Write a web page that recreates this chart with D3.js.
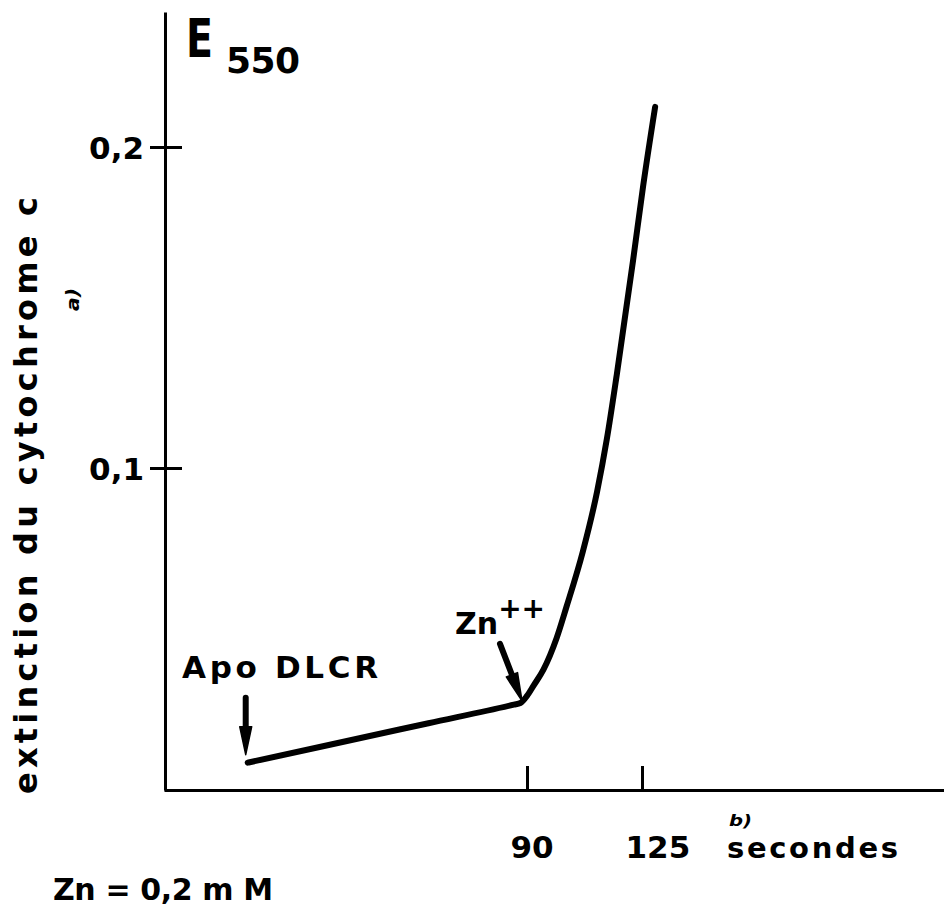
<!DOCTYPE html>
<html>
<head>
<meta charset="utf-8">
<script src="https://cdn.jsdelivr.net/npm/d3@7"></script>
<style>
  html, body { margin: 0; padding: 0; background: #fff; }
  svg { display: block; }
  text { font-family: "DejaVu Sans", sans-serif; font-weight: bold; fill: #000; }
</style>
</head>
<body>
<svg id="chart" width="944" height="908"></svg>
<script>
// Time after start of recording (s) and cytochrome c extinction at 550 nm
const seconds = [5, 30, 60, 86, 88, 90, 92, 95, 99, 102, 107, 111.3, 114.3, 117.4, 122.3, 125.3, 129];
const extinction = [0.0082, 0.0138, 0.0205, 0.0263, 0.0268, 0.0290, 0.0322, 0.0372, 0.0470, 0.0567, 0.0740, 0.0925, 0.1090, 0.1296, 0.1648, 0.1875, 0.2125];

const xTicks = [90, 125];
const xTickLabels = ["90", "125"];
const yTicks = [0.1, 0.2];
const yTickLabels = ["0,1", "0,2"];

// Additions marked on the trace (time in s)
const apoTime = 5;
const znTime = 90;

const svg = d3.select("#chart");

// Scales calibrated on the two labelled ticks of each axis
const x = d3.scaleLinear().domain([90, 125]).range([527, 642]);
x.domain([x.invert(164), x.invert(944)]).range([164, 944]);
const y = d3.scaleLinear().domain([0, 0.2]).range([789, 147]);
y.domain([y.invert(790), y.invert(12)]).range([790, 12]);

// Y axis: ticks crossing the axis line
const yAxis = svg.append("g")
  .attr("transform", "translate(165,0)")
  .call(d3.axisLeft(y).tickValues(yTicks).tickSizeOuter(0)
    .tickFormat((d, i) => yTickLabels[i]));
yAxis.select(".domain").attr("stroke", "#000").attr("stroke-width", 3);
yAxis.selectAll(".tick line").attr("x1", -15).attr("x2", 17)
  .attr("stroke", "#000").attr("stroke-width", 3);
yAxis.selectAll(".tick text").attr("x", -21).attr("dy", "0.36em")
  .style("font-size", "31px").attr("font-family", null);

// X axis: ticks pointing up into the plot
const xAxis = svg.append("g")
  .attr("transform", "translate(0,790)")
  .call(d3.axisBottom(x).tickValues(xTicks).tickSizeOuter(0)
    .tickFormat((d, i) => xTickLabels[i]));
xAxis.select(".domain").attr("stroke", "#000").attr("stroke-width", 3);
xAxis.selectAll(".tick line").attr("y2", -24)
  .attr("stroke", "#000").attr("stroke-width", 3);
xAxis.selectAll(".tick text").attr("y", 68).attr("dy", 0)
  .attr("text-anchor", "start").attr("dx", -17)
  .style("font-size", "31px").attr("font-family", null);

// Trace
const data = seconds.map((s, i) => ({ s, v: extinction[i] }));
const line = d3.line().x(d => x(d.s)).y(d => y(d.v)).curve(d3.curveMonotoneX);
svg.append("path").datum(data)
  .attr("d", line)
  .attr("fill", "none").attr("stroke", "#000")
  .attr("stroke-width", 6).attr("stroke-linecap", "round").attr("stroke-linejoin", "round");

function arrow(x1, y1, x2, y2) {
  // shaft + long narrow head
  const ang = Math.atan2(y2 - y1, x2 - x1);
  const len = 28, half = 6;
  const bx = x2 - len * Math.cos(ang), by = y2 - len * Math.sin(ang);
  svg.append("line").attr("x1", x1).attr("y1", y1).attr("x2", bx).attr("y2", by)
    .attr("stroke", "#000").attr("stroke-width", 6).attr("stroke-linecap", "round");
  const px = -Math.sin(ang) * half, py = Math.cos(ang) * half;
  svg.append("path")
    .attr("d", `M${bx + px},${by + py} L${x2},${y2} L${bx - px},${by - py} Z`)
    .attr("fill", "#000").attr("stroke", "#000").attr("stroke-width", 1.5)
    .attr("stroke-linejoin", "round");
}

const apoX = x(apoTime) - 2, apoY = y(extinction[0]);
arrow(apoX, apoY - 65, apoX, apoY - 8);
const znX = x(znTime) - 5, znY = y(extinction[5]);
arrow(znX - 22, znY - 52, znX, znY + 5);

// Annotations
svg.append("text").attr("x", 182).attr("y", 678)
  .attr("textLength", 196).attr("lengthAdjust", "spacing")
  .style("font-size", "31px").text("Apo DLCR");

const zn = svg.append("text").attr("x", 455).attr("y", 634).style("font-size", "30px");
zn.append("tspan").text("Zn");
zn.append("tspan").attr("dy", -16).style("font-size", "28px").text("++");

// Title E550
svg.append("text").attr("x", 186).attr("y", 57)
  .attr("textLength", 27).attr("lengthAdjust", "spacingAndGlyphs")
  .style("font-size", "54px").text("E");
svg.append("text").attr("x", 226).attr("y", 73)
  .attr("textLength", 74).attr("lengthAdjust", "spacing")
  .style("font-size", "36px").text("550");

// Axis titles
svg.append("text").attr("transform", "translate(37,794) rotate(-90)")
  .attr("textLength", 597).attr("lengthAdjust", "spacing")
  .style("font-size", "32px").text("extinction du cytochrome c");
svg.append("text").attr("transform", "translate(79,311) rotate(-90)")
  .attr("textLength", 23).attr("lengthAdjust", "spacingAndGlyphs")
  .style("font-size", "17px").style("font-style", "italic").text("a)");

svg.append("text").attr("x", 727).attr("y", 858)
  .attr("textLength", 171).attr("lengthAdjust", "spacing")
  .style("font-size", "29px").text("secondes");
svg.append("text").attr("x", 729).attr("y", 826)
  .attr("textLength", 23).attr("lengthAdjust", "spacingAndGlyphs")
  .style("font-size", "16px").style("font-style", "italic").text("b)");

svg.append("text").attr("x", 53).attr("y", 900)
  .attr("textLength", 220).attr("lengthAdjust", "spacing")
  .style("font-size", "30px").text("Zn = 0,2 m M");
</script>
</body>
</html>
